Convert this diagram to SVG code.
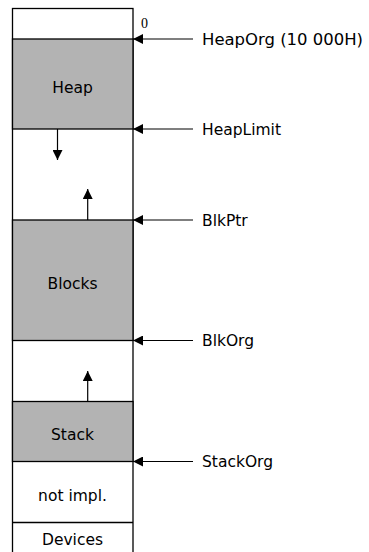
<svg xmlns="http://www.w3.org/2000/svg" width="369" height="552" viewBox="0 0 369 552">
<style>
.lbl{font-family:"DejaVu Sans","Liberation Sans",sans-serif;font-size:15.5px;fill:#000}
.c{text-anchor:middle}
.box{stroke:#000;stroke-width:1.3}
.ptr{stroke:#000;stroke-width:1.2;fill:none}
</style>
<defs>
<marker id="ah" viewBox="0 0 10 10" refX="10" refY="5" markerWidth="10" markerHeight="10" markerUnits="userSpaceOnUse" orient="auto">
<path d="M0,0 L10,5 L0,10 z" fill="#000"/>
</marker>
</defs>
<rect x="0" y="0" width="369" height="552" fill="#fff"/>
<g id="column">
<rect x="12.5" y="8.5" width="120.5" height="560" fill="#fff" class="box"/>
</g>
<g id="heap">
<rect x="12.5" y="39" width="120.5" height="90" fill="#b3b3b3" class="box"/>
<text class="lbl c" x="72.5" y="93">Heap</text>
</g>
<g id="blocks">
<rect x="12.5" y="220" width="120.5" height="120.5" fill="#b3b3b3" class="box"/>
<text class="lbl c" x="72.5" y="289">Blocks</text>
</g>
<g id="stack">
<rect x="12.5" y="401.5" width="120.5" height="60" fill="#b3b3b3" class="box"/>
<text class="lbl c" x="72.5" y="440">Stack</text>
</g>
<g id="notimpl">
<text class="lbl c" x="72.5" y="501">not impl.</text>
</g>
<g id="devices">
<line x1="12.5" y1="522.5" x2="133" y2="522.5" class="box"/>
<text class="lbl c" x="72.5" y="545">Devices</text>
</g>
<g id="zero">
<text x="141" y="28" font-family="'Liberation Serif',serif" font-size="14px" fill="#000">0</text>
</g>
<g id="connectors">
<line x1="57.5" y1="129" x2="57.5" y2="160" class="ptr" marker-end="url(#ah)"/>
<line x1="87.7" y1="220" x2="87.7" y2="189" class="ptr" marker-end="url(#ah)"/>
<line x1="87.7" y1="401.5" x2="87.7" y2="371" class="ptr" marker-end="url(#ah)"/>
<line x1="193" y1="39" x2="133" y2="39" class="ptr" marker-end="url(#ah)"/>
<line x1="193" y1="129" x2="133" y2="129" class="ptr" marker-end="url(#ah)"/>
<line x1="193" y1="220" x2="133" y2="220" class="ptr" marker-end="url(#ah)"/>
<line x1="193" y1="340.5" x2="133" y2="340.5" class="ptr" marker-end="url(#ah)"/>
<line x1="193" y1="461.5" x2="133" y2="461.5" class="ptr" marker-end="url(#ah)"/>
</g>
<g id="labels">
<text class="lbl" x="202" y="45" textLength="161" lengthAdjust="spacingAndGlyphs">HeapOrg (10 000H)</text>
<text class="lbl" x="202" y="135">HeapLimit</text>
<text class="lbl" x="202" y="226">BlkPtr</text>
<text class="lbl" x="202" y="346">BlkOrg</text>
<text class="lbl" x="202" y="467">StackOrg</text>
</g>
</svg>
